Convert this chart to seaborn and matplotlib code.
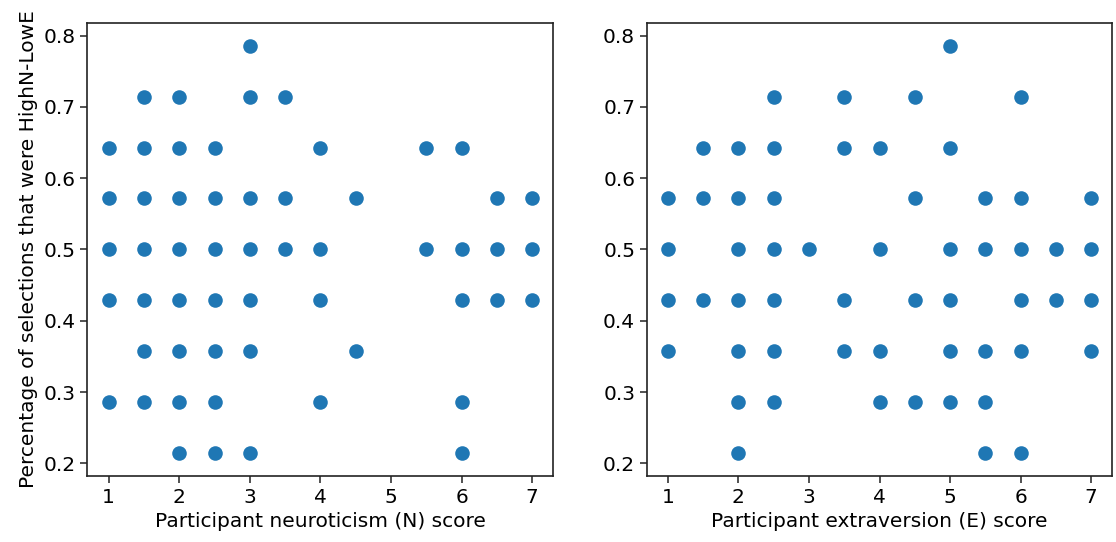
import matplotlib
matplotlib.use("Agg")
import matplotlib.pyplot as plt
import seaborn as sns
import pandas as pd

# Neuroticism scores and matching HighN-LowE selection shares
n_score = [1, 1, 1, 1, 1,
           1.5, 1.5, 1.5, 1.5, 1.5, 1.5, 1.5,
           2, 2, 2, 2, 2, 2, 2, 2,
           2.5, 2.5, 2.5, 2.5, 2.5, 2.5, 2.5,
           3, 3, 3, 3, 3, 3, 3,
           3.5, 3.5, 3.5,
           4, 4, 4, 4,
           4.5, 4.5,
           5.5, 5.5,
           6, 6, 6, 6, 6,
           6.5, 6.5, 6.5,
           7, 7, 7]
n_share_14 = [9, 8, 7, 6, 4,
              10, 9, 8, 7, 6, 5, 4,
              10, 9, 8, 7, 6, 5, 4, 3,
              9, 8, 7, 6, 5, 4, 3,
              11, 10, 8, 7, 6, 5, 3,
              10, 8, 7,
              9, 7, 6, 4,
              8, 5,
              9, 7,
              9, 7, 6, 4, 3,
              8, 7, 6,
              8, 7, 6]

# Extraversion scores and matching HighN-LowE selection shares
e_score = [1, 1, 1, 1,
           1.5, 1.5, 1.5,
           2, 2, 2, 2, 2, 2, 2,
           2.5, 2.5, 2.5, 2.5, 2.5, 2.5, 2.5,
           3,
           3.5, 3.5, 3.5, 3.5,
           4, 4, 4, 4,
           4.5, 4.5, 4.5, 4.5,
           5, 5, 5, 5, 5, 5,
           5.5, 5.5, 5.5, 5.5, 5.5,
           6, 6, 6, 6, 6, 6,
           6.5, 6.5,
           7, 7, 7, 7]
e_share_14 = [8, 7, 6, 5,
              9, 8, 6,
              9, 8, 7, 6, 5, 4, 3,
              10, 9, 8, 7, 6, 5, 4,
              7,
              10, 9, 6, 5,
              9, 7, 5, 4,
              10, 8, 6, 4,
              11, 9, 7, 6, 5, 4,
              8, 7, 5, 4, 3,
              10, 8, 7, 6, 5, 3,
              7, 6,
              8, 7, 6, 5]

n_df = pd.DataFrame({"score": n_score, "share": [v / 14 for v in n_share_14]})
e_df = pd.DataFrame({"score": e_score, "share": [v / 14 for v in e_share_14]})

plt.rcParams["font.family"] = ["DejaVu Sans"]
fs = 14.5

fig = plt.figure(figsize=(11.16, 5.42), dpi=100)
ax1 = fig.add_axes([0.0784, 0.1218, 0.4174, 0.836])
ax2 = fig.add_axes([0.5795, 0.1218, 0.4172, 0.836])

color = "#1f77b4"
sns.scatterplot(data=n_df, x="score", y="share", ax=ax1, color=color,
                s=110, linewidth=0)
sns.scatterplot(data=e_df, x="score", y="share", ax=ax2, color=color,
                s=110, linewidth=0)

ax1.set_xlabel("Participant neuroticism (N) score", fontsize=fs)
ax1.set_ylabel("Percentage of selections that were HighN-LowE", fontsize=fs)
ax2.set_xlabel("Participant extraversion (E) score", fontsize=fs)
ax2.set_ylabel("")

for ax in (ax1, ax2):
    ax.set_xticks([1, 2, 3, 4, 5, 6, 7])
    ax.set_yticks([0.2, 0.3, 0.4, 0.5, 0.6, 0.7, 0.8])
    ax.margins(x=0.05, y=0.056)
    ax.tick_params(labelsize=fs, length=4.8, width=1.1, color="#222222")
    for sp in ax.spines.values():
        sp.set_color("#222222")
        sp.set_linewidth(1.2)

fig.savefig("out.png", dpi=100)
